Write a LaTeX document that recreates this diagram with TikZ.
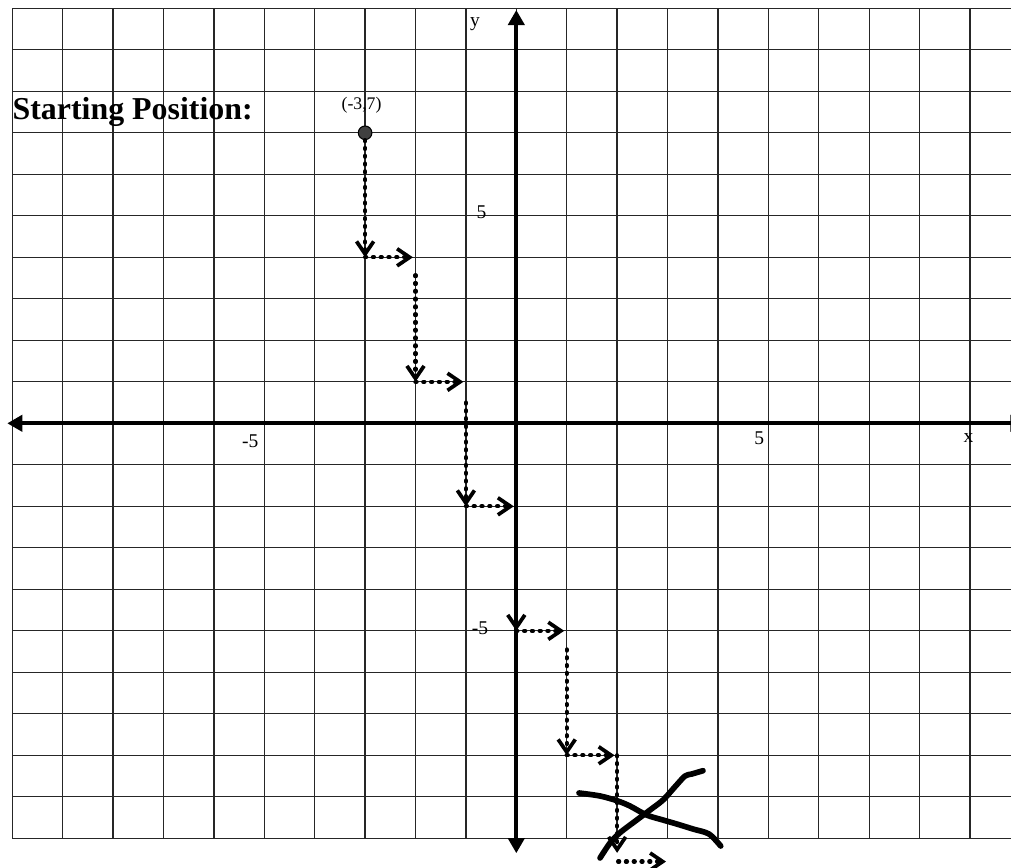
\documentclass[tikz,border=0pt]{standalone}
\usepackage{fontspec}
\setmainfont{Liberation Serif}
\usetikzlibrary{arrows.meta}

\begin{document}
\begin{tikzpicture}[x=1cm, y=0.8234cm, every node/.style={font=\fontsize{11}{13}\selectfont, inner sep=1pt},
	gridline/.style={black!85, line width=0.7pt},
	axis/.style={line width=2.3pt, {Triangle[length=3mm, width=3.2mm]}-{Triangle[length=3mm, width=3.2mm]}},
	move/.style={line width=2.4pt, line cap=round, dash pattern=on 0.6pt off 3.8pt, -{Straight Barb[length=2.5mm, width=3.4mm, line width=2.1pt]}},
	scribble/.style={line width=3.2pt, line cap=round, line join=round},
	dot/.style={circle, draw=black, fill=black!75, line width=0.6pt, minimum size=0.27cm, inner sep=0pt}]
	\useasboundingbox (-10.244,-10.692) rectangle (9.815,10.2);
	% grid
	\foreach \x in {-10,...,10} {\draw[gridline] (\x,-10) -- (\x,10);}
	\foreach \y in {-10,...,10} {\draw[gridline] (-10,\y) -- (10,\y);}
	% axes
	\coordinate (xl) at (-10.1,0);
	\coordinate (xr) at (10.1,0);
	\coordinate (yb) at (0,-10.36);
	\coordinate (yt) at (0,9.96);
	\draw[axis] (xl) -- (xr);
	\draw[axis] (yb) -- (yt);
	\node (ylab) at (-0.82,9.62) {y};
	\node (xlab) at (8.97,-0.36) {x};
	\node (xm5) at (-5.28,-0.42) {-5};
	\node (xp5) at (4.82,-0.36) {5};
	\node (yp5) at (-0.69,5.08) {5};
	\node (ym5) at (-0.72,-4.94) {-5};
	% start
	\node[anchor=base west, inner sep=0pt, font=\fontsize{18}{20}\selectfont\bfseries] (title) at (-10.0,7.33) {Starting Position:};
	\node[dot] (start) at (-3,7) {};
	\node[font=\fontsize{10}{12}\selectfont] (startlab) at (-3.07,7.67) {(-3,7)};
	% corners of the path
	\coordinate (c1) at (-3,4);
	\coordinate (c2) at (-2,1);
	\coordinate (c3) at (-1,-2);
	\coordinate (c4) at (0,-5);
	\coordinate (c5) at (1,-8);
	\coordinate (c6) at (2,-10.35);
	\coordinate (t2) at (-2,3.57);
	\coordinate (t3) at (-1,0.5);
	\coordinate (t4) at (0,-2.05);
	\coordinate (t5) at (1,-5.45);
	\coordinate (t6) at (2,-8);
	\coordinate (r1) at (-2.05,4);
	\coordinate (r2) at (-1.05,1);
	\coordinate (r3) at (-0.05,-2);
	\coordinate (r4) at (0.95,-5);
	\coordinate (r5) at (1.95,-8);
	\coordinate (l6) at (2.02,-10.56);
	\coordinate (r6) at (2.97,-10.56);
	\foreach \a/\b in {start/c1, c1/r1, t2/c2, c2/r2, t3/c3, c3/r3, t4/c4, c4/r4, t5/c5, c5/r5, t6/c6, l6/r6}
		{\draw[move] (\a) -- (\b);}
	% crossed out
	\draw[scribble] plot[smooth, tension=0.5] coordinates {(1.244,-8.908) (1.661,-8.98) (1.998,-9.094) (2.256,-9.222) (2.587,-9.44) (2.911,-9.559) (3.183,-9.655) (3.506,-9.776) (3.823,-9.896) (4.056,-10.186)};
	\draw[scribble] plot[smooth, tension=0.5] coordinates {(1.661,-10.474) (1.859,-10.113) (2.057,-9.865) (2.389,-9.559) (2.653,-9.318) (2.911,-9.077) (3.149,-8.757) (3.347,-8.499) (3.48,-8.451) (3.704,-8.371)};
\end{tikzpicture}
\end{document}
